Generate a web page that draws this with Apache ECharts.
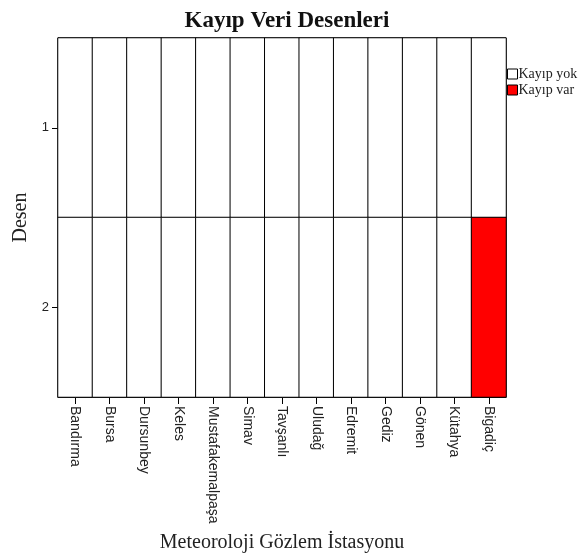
<!DOCTYPE html>
<html>
<head>
<meta charset="utf-8">
<script src="https://cdn.jsdelivr.net/npm/echarts@6/dist/echarts.min.js"></script>
<style>
html, body { margin: 0; padding: 0; background: #fff; }
#chart { width: 582px; height: 559px; }
</style>
</head>
<body>
<div id="chart"></div>
<script>
var stations = ['Bandırma', 'Bursa', 'Dursunbey', 'Keles', 'Mustafakemalpaşa', 'Simav', 'Tavşanlı',
                'Uludağ', 'Edremit', 'Gediz', 'Gönen', 'Kütahya', 'Bigadiç'];
var patterns = ['1', '2'];
// 0 = Kayıp yok, 1 = Kayıp var ; one row per pattern
var pattern1 = [0, 0, 0, 0, 0, 0, 0, 0, 0, 0, 0, 0, 0];
var pattern2 = [0, 0, 0, 0, 0, 0, 0, 0, 0, 0, 0, 0, 1];

var rows = [pattern1, pattern2];
var yokData = [], varData = [];
rows.forEach(function (row, j) {
	row.forEach(function (v, i) {
		if (v === 1) varData.push([i, j, 1]);
		else yokData.push([i, j, 0]);
	});
});

var serif = '"Liberation Serif", "Times New Roman", serif';
var sans = '"Liberation Sans", Arial, sans-serif';

var option = {
	animation: false,
	title: {
		text: 'Kayıp Veri Desenleri',
		left: 282,
		textAlign: 'center',
		top: 5,
		textStyle: { fontFamily: serif, fontSize: 23, fontWeight: 'bold', color: '#111' }
	},
	legend: {
		orient: 'vertical',
		left: 502,
		top: 62,
		itemWidth: 10,
		itemHeight: 10,
		itemGap: 2,
		icon: 'rect',
		selectedMode: false,
		data: ['Kayıp yok', 'Kayıp var'],
		itemStyle: { borderColor: '#000', borderWidth: 1 },
		textStyle: { fontFamily: serif, fontSize: 14, color: '#222', padding: [0, 0, 0, -4] }
	},
	grid: {
		left: 58, right: 76, top: 38, bottom: 162,
		outerBoundsMode: 'none',
		show: true, borderColor: '#000', borderWidth: 1
	},
	xAxis: {
		type: 'category',
		data: stations,
		name: 'Meteoroloji Gözlem İstasyonu',
		nameLocation: 'middle',
		nameGap: 136,
		nameTextStyle: { fontFamily: serif, fontSize: 20, color: '#222' },
		axisLine: { show: true, lineStyle: { color: '#000' } },
		axisTick: { show: true, alignWithLabel: true, length: 7, lineStyle: { color: '#000', width: 1 } },
		axisLabel: { rotate: -90, margin: 9, fontFamily: sans, fontSize: 14, color: '#222', interval: 0 },
		splitLine: { show: false }
	},
	yAxis: {
		type: 'category',
		data: patterns,
		inverse: true,
		name: 'Desen',
		nameLocation: 'middle',
		nameGap: 26,
		nameTextStyle: { fontFamily: serif, fontSize: 20, color: '#222' },
		axisLine: { show: true, lineStyle: { color: '#000' } },
		axisTick: { show: true, alignWithLabel: true, length: 6, lineStyle: { color: '#000', width: 1 } },
		axisLabel: { margin: 9, fontFamily: sans, fontSize: 13, color: '#222' },
		splitLine: { show: false }
	},
	series: [
		{
			name: 'Kayıp yok',
			type: 'heatmap',
			data: yokData,
			itemStyle: { color: '#ffffff', borderColor: '#000', borderWidth: 1 },
			emphasis: { disabled: true }
		},
		{
			name: 'Kayıp var',
			type: 'heatmap',
			data: varData,
			itemStyle: { color: '#ff0000', borderColor: '#000', borderWidth: 1 },
			emphasis: { disabled: true }
		}
	]
};

var chart = echarts.init(document.getElementById('chart'));
chart.setOption(option);
</script>
</body>
</html>
